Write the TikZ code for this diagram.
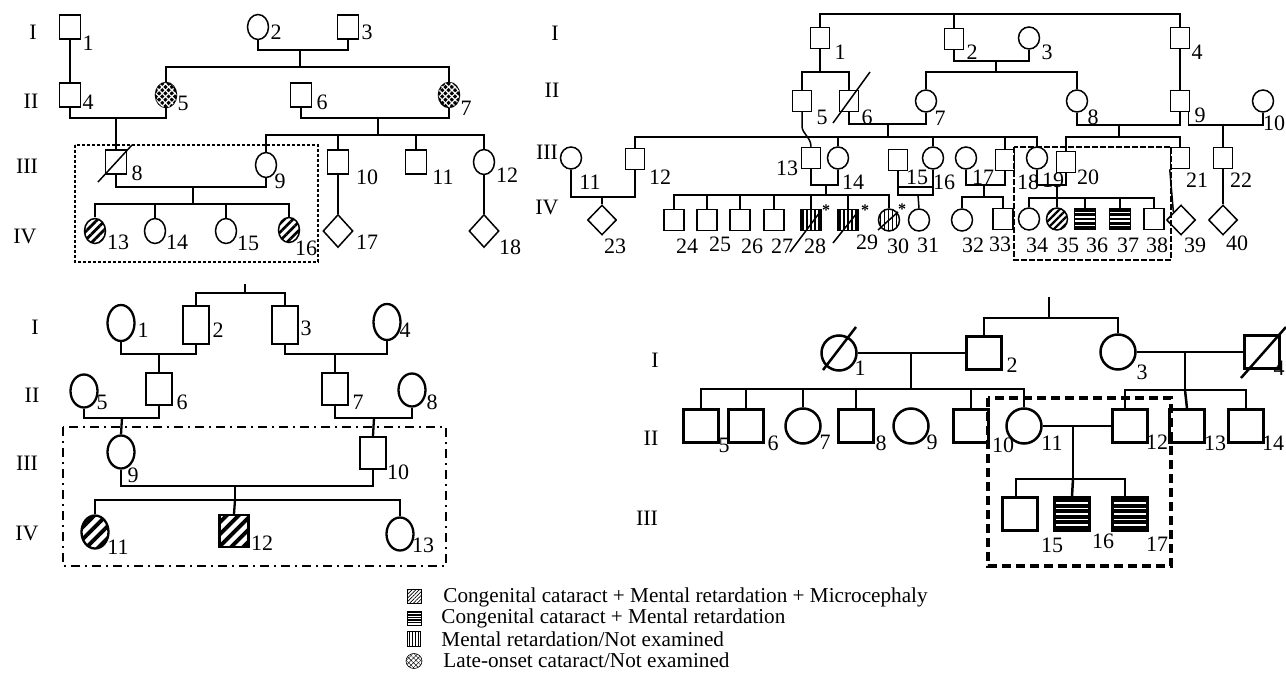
\documentclass[tikz,border=0pt]{standalone}
\usepackage{fontspec}
\setmainfont{Liberation Serif}
\usetikzlibrary{shapes.geometric,patterns,patterns.meta}
\newcommand\labfont{\fontsize{22}{24}\selectfont}
\newcommand\legfont{\fontsize{21.2}{23}\selectfont}
\tikzset{
 lb/.style={inner sep=0pt, font=\labfont},
 leg/.style={inner sep=0pt, font=\legfont, anchor=west},
 ast/.style={inner sep=0pt, font=\fontsize{16}{16}\selectfont\bfseries},
 sqA/.style={draw, rectangle, inner sep=0pt, minimum width=21pt, minimum height=24pt},
 ciA/.style={draw, ellipse, inner sep=0pt, minimum width=21pt, minimum height=25pt},
 diA/.style={draw, diamond, inner sep=0pt, minimum width=30pt, minimum height=33pt},
 sqB/.style={draw, rectangle, inner sep=0pt, minimum width=19pt, minimum height=21pt},
 ciB/.style={draw, ellipse, inner sep=0pt, minimum width=21pt, minimum height=22pt},
 diB/.style={draw, diamond, inner sep=0pt, minimum width=29pt, minimum height=30pt},
 sqC/.style={draw, rectangle, inner sep=0pt, minimum width=26pt, minimum height=32pt},
 sqCI/.style={draw, rectangle, inner sep=0pt, minimum width=26pt, minimum height=38pt},
 ciC/.style={draw, ellipse, inner sep=0pt, minimum width=27pt, minimum height=33pt},
 sqD/.style={draw, rectangle, inner sep=0pt, minimum width=35pt, minimum height=33pt},
 ciD/.style={draw, ellipse, inner sep=0pt, minimum width=35pt, minimum height=35pt},
 diagA/.style={pattern={Lines[angle=45,distance=6pt,line width=2.7pt]}},
 diagB/.style={pattern={Lines[angle=45,distance=5pt,line width=2.3pt]}},
 diagC/.style={pattern={Lines[angle=45,distance=8.5pt,line width=4pt]}},
 hstripe/.style n args={3}{path picture={
   \foreach \k in {0,...,#3}{
     \draw[line width=#2pt] ([yshift={-(#1/2+\k*#1)*1pt}]path picture bounding box.north west)
        -- ([yshift={-(#1/2+\k*#1)*1pt}]path picture bounding box.north east);}}},
 vstripe/.style n args={3}{path picture={
   \foreach \k in {0,...,#3}{
     \draw[line width=#2pt] ([xshift={(#1/2+\k*#1)*1pt}]path picture bounding box.north west)
        -- ([xshift={(#1/2+\k*#1)*1pt}]path picture bounding box.south west);}}},
 xhatch/.style={preaction={fill=black},
   pattern={Lines[angle=45,distance=4.5pt,line width=1.2pt]}, pattern color=white,
   postaction={pattern={Lines[angle=-45,distance=4.5pt,line width=1.2pt]}, pattern color=white}},
 dotbox/.style={line width=1.4pt, dash pattern=on 3pt off 2pt},
 dashboxB/.style={line width=1.4pt, dash pattern=on 6pt off 2pt},
 dashboxC/.style={line width=2.4pt, dash pattern=on 9pt off 5pt on 2pt off 5pt},
 dashboxD/.style={line width=3.6pt, dash pattern=on 9pt off 5pt},
}
\begin{document}
\begin{tikzpicture}[x=1pt,y=-1pt]
\useasboundingbox (0,0) rectangle (1286,682);
\clip (0,0) rectangle (1286,682);

%%%%%%%%%%%%%%%% Panel A %%%%%%%%%%%%%%%%
\begin{scope}[line width=1.5pt]
\node[lb] (rA1) at (33,32) {I};
\node[lb] (rA2) at (31,101) {II};
\node[lb] (rA3) at (27,166) {III};
\node[lb] (rA4) at (25,236) {IV};

\node[sqA] (A1) at (70,27) {};
\node[ciA] (A2) at (258,27) {};
\node[sqA] (A3) at (348,27) {};
\node[sqA] (A4) at (70,95) {};
\node[ciA,xhatch] (A5) at (166,95) {};
\node[sqA] (A6) at (301,95) {};
\node[ciA,xhatch] (A7) at (449,95) {};
\node[sqA] (A8) at (116,162) {};
\node[ciA] (A9) at (266,165) {};
\node[sqA] (A10) at (338,162) {};
\node[sqA] (A11) at (416,162) {};
\node[ciA] (A12) at (484,162) {};
\node[ciA,diagA] (A13) at (95,231) {};
\node[ciA] (A14) at (155,231) {};
\node[ciA] (A15) at (226,231) {};
\node[ciA,diagA] (A16) at (289,230) {};
\node[diA] (A17) at (338,231) {};
\node[diA] (A18) at (484,231) {};

\node[lb] (lA1) at (88,43) {1};
\node[lb] (lA2) at (276,32) {2};
\node[lb] (lA3) at (367,32) {3};
\node[lb] (lA4) at (88,102) {4};
\node[lb] (lA5) at (183,103) {5};
\node[lb] (lA6) at (322,102) {6};
\node[lb] (lA7) at (466,108) {7};
\node[lb] (lA8) at (137,173) {8};
\node[lb] (lA9) at (280,181) {9};
\node[lb] (lA10) at (367,177) {10};
\node[lb] (lA11) at (443,177) {11};
\node[lb] (lA12) at (507,175) {12};
\node[lb] (lA13) at (118,242) {13};
\node[lb] (lA14) at (177,242) {14};
\node[lb] (lA15) at (248,243) {15};
\node[lb] (lA16) at (306,248) {16};
\node[lb] (lA17) at (367,242) {17};
\node[lb] (lA18) at (510,247) {18};

\draw ([shift={(-18,20)}]A8.center) -- ([shift={(16,-17)}]A8.center);

\coordinate (A23) at (300,50);
\coordinate (A23s) at (300,67);
\coordinate (A45) at (116,118);
\coordinate (A67) at (378,118);
\coordinate (A67s) at (378,135);
\coordinate (A89) at (193,187);
\coordinate (A89s) at (193,204);
\draw (A1.south) -- (A4.north);
\draw (A2.south) |- (A23) -| (A3.south);
\draw (A23) -- (A23s);
\draw (A5.north) |- (A23s) -| (A7.north);
\draw (A4.south) |- (A45) -| (A5.south);
\draw (A45) -- (A8.north);
\draw (A6.south) |- (A67) -| (A7.south);
\draw (A67) -- (A67s);
\draw (A9.north) |- (A67s) -| (A12.north);
\draw (A10.north) -- (A10.north |- A67s);
\draw (A11.north) -- (A11.north |- A67s);
\draw (A8.south) |- (A89) -| (A9.south);
\draw (A89) -- (A89s);
\draw (A13.north) |- (A89s) -| (A16.north);
\draw (A14.north) -- (A14.north |- A89s);
\draw (A15.north) -- (A15.north |- A89s);
\draw (A10.south) -- (A17.north);
\draw (A12.south) -- (A18.north);
\draw[dotbox] (75,145) rectangle (318,262);
\end{scope}

%%%%%%%%%%%%%%%% Panel B %%%%%%%%%%%%%%%%
\begin{scope}[line width=1.5pt]
\node[lb] (rB1) at (555,33) {I};
\node[lb] (rB2) at (552,90) {II};
\node[lb] (rB3) at (547,152) {III};
\node[lb] (rB4) at (547,207) {IV};

\node[sqB] (B1) at (820,38) {};
\node[sqB] (B2) at (954,39) {};
\node[ciB] (B3) at (1029,38) {};
\node[sqB] (B4) at (1180,38) {};
\node[sqB] (B5) at (802,101) {};
\node[sqB] (B6) at (849,101) {};
\node[ciB] (B7) at (926,101) {};
\node[ciB] (B8) at (1077,101) {};
\node[sqB] (B9) at (1180,101) {};
\node[ciB] (B10) at (1263,101) {};
\node[ciB] (B11) at (571,158) {};
\node[sqB] (B12) at (635,159) {};
\node[sqB] (B13) at (811,158) {};
\node[ciB] (B14) at (838,158) {};
\node[sqB] (B15) at (898,160) {};
\node[ciB] (B16) at (933,158) {};
\node[ciB] (B17) at (966,158) {};
\node[sqB] (B17b) at (1005,160) {};
\node[ciB] (B18) at (1037,158) {};
\node[sqB] (B20) at (1066,162) {};
\node[sqB] (B21) at (1180,158) {};
\node[sqB] (B22) at (1223,158) {};
\node[diB] (B23) at (602,220) {};
\node[sqB,minimum width=20pt] (B24) at (674,220) {};
\node[sqB,minimum width=20pt] (B25) at (707,220) {};
\node[sqB,minimum width=20pt] (B26) at (740,220) {};
\node[sqB,minimum width=20pt] (B27) at (774,220) {};
\node[sqB,minimum width=20pt,vstripe={4}{1.7}{6}] (B28) at (811,220) {};
\node[sqB,minimum width=20pt,vstripe={4}{1.7}{6}] (B29) at (848,220) {};
\node[ciB,vstripe={4}{1.7}{6}] (B30) at (889,220) {};
\node[ciB] (B31) at (919,220) {};
\node[ciB] (B32) at (962,220) {};
\node[sqB,minimum width=20pt] (B33) at (1003,219) {};
\node[ciB] (B34) at (1029,219) {};
\node[ciB,diagB] (B35) at (1057,219) {};
\node[sqB,minimum width=21pt,hstripe={4.2}{2.9}{6}] (B36) at (1085,219) {};
\node[sqB,minimum width=21pt,hstripe={4.2}{2.9}{6}] (B37) at (1120,219) {};
\node[sqB,minimum width=20pt] (B38) at (1154,219) {};
\node[diB] (B39) at (1181,220) {};
\node[diB] (B40) at (1223,220) {};

\node[lb] (lB1) at (840,52) {1};
\node[lb] (lB2) at (972,52) {2};
\node[lb] (lB3) at (1047,52) {3};
\node[lb] (lB4) at (1197,52) {4};
\node[lb] (lB5) at (822,117) {5};
\node[lb] (lB6) at (867,117) {6};
\node[lb] (lB7) at (940,118) {7};
\node[lb] (lB8) at (1093,117) {8};
\node[lb] (lB9) at (1200,115) {9};
\node[lb] (lB10) at (1274,123) {10};
\node[lb] (lB11) at (590,182) {11};
\node[lb] (lB12) at (660,177) {12};
\node[lb] (lB13) at (787,168) {13};
\node[lb] (lB14) at (853,182) {14};
\node[lb] (lB15) at (917,177) {15};
\node[lb] (lB16) at (944,182) {16};
\node[lb] (lB17) at (983,177) {17};
\node[lb] (lB18) at (1028,182) {18};
\node[lb] (lB19) at (1053,180) {19};
\node[lb] (lB20) at (1088,177) {20};
\node[lb] (lB21) at (1197,180) {21};
\node[lb] (lB22) at (1241,180) {22};
\node[lb] (lB23) at (615,246) {23};
\node[lb] (lB24) at (687,246) {24};
\node[lb] (lB25) at (720,244) {25};
\node[lb] (lB26) at (752,246) {26};
\node[lb] (lB27) at (782,246) {27};
\node[lb] (lB28) at (815,246) {28};
\node[lb] (lB29) at (867,242) {29};
\node[lb] (lB30) at (898,246) {30};
\node[lb] (lB31) at (928,245) {31};
\node[lb] (lB32) at (973,245) {32};
\node[lb] (lB33) at (1000,244) {33};
\node[lb] (lB34) at (1037,245) {34};
\node[lb] (lB35) at (1068,245) {35};
\node[lb] (lB36) at (1097,245) {36};
\node[lb] (lB37) at (1128,245) {37};
\node[lb] (lB38) at (1157,245) {38};
\node[lb] (lB39) at (1195,245) {39};
\node[lb] (lB40) at (1237,243) {40};
\node[ast] (sB28) at (826,210) {*};
\node[ast] (sB29) at (865,210) {*};
\node[ast] (sB30) at (902,209) {*};

\draw ([shift={(-16,22)}]B6.center) -- ([shift={(21,-29)}]B6.center);
\draw ([shift={(-21,32)}]B28.center) -- ([shift={(9,-8)}]B28.center);
\draw ([shift={(-15,23)}]B29.center) -- ([shift={(9,-7)}]B29.center);
\draw ([shift={(-11,10)}]B30.center) -- ([shift={(9,-8)}]B30.center);

\coordinate (BT) at (955,14);
\coordinate (B1c) at (820,72);
\coordinate (B23m) at (996,61);
\coordinate (B23s) at (996,72);
\coordinate (B67) at (888,124);
\coordinate (B67s) at (888,137);
\coordinate (B89) at (1119,125);
\coordinate (B89s) at (1119,137);
\coordinate (B910) at (1223,125);
\coordinate (B1112) at (602,197);
\coordinate (B1314) at (826,185);
\coordinate (B1314s) at (826,195);
\coordinate (B1516) at (918,187);
\coordinate (B1516s) at (918,195);
\coordinate (B17m) at (984,185);
\coordinate (B17s) at (984,197);
\coordinate (B1820) at (1057,185);
\coordinate (B1820s) at (1057,198);
\coordinate (B5c) at (802,126);

\draw (B1.north) |- (BT) -| (B4.north);
\draw (B2.north) -- (B2.north |- BT);
\draw (B1.south) -- (B1c);
\draw (B5.north) |- (B1c) -| (B6.north);
\draw (B2.south) |- (B23m) -| (B3.south);
\draw (B23m) -- (B23s);
\draw (B7.north) |- (B23s) -| (B8.north);
\draw (B4.south) -- (B9.north);
\draw (B6.south) |- (B67) -| (B7.south);
\draw (B67) -- (B67s);
\draw (B12.north) |- (B67s) -| (B18.north);
\draw (B14.north) -- (B14.north |- B67s);
\draw (B16.north) -- (B16.north |- B67s);
\draw (B17b.north) -- (B17b.north |- B67s);
\draw (B5.south) -- (B5c) .. controls (802,134) and (811,137) .. (B13.north);
\draw (B8.south) |- (B89) -| (B9.south);
\draw (B89) -- (B89s);
\draw (B20.north) |- (B89s) -| (B21.north);
\draw ([xshift=-2pt]B9.south east) |- (B910) -| (B10.south);
\draw (B910) -- (B22.north);
\draw (B22.south) -- (B40.north);
\draw (B21.south west) -- (B39.north west);
\draw (B11.south) |- (B1112) -| (B12.south);
\draw (B1112) -- (B23.north);
\draw (B13.south) |- (B1314) -| (B14.south);
\draw (B1314) -- (B1314s);
\draw (B24.north) |- (B1314s) -| (B30.north);
\foreach \n in {25,26,27,28,29} {\draw (B\n.north) -- (B\n.north |- B1314s);}
\draw (B15.south) |- (B1516s) -| (B16.south);
\draw (B15.south |- B1516) -- (B16.south |- B1516);
\draw (B1516s) -- (B31.north);
\draw (B17.south) |- (B17m) -| (B17b.south);
\draw (B17m) -- (B17s);
\draw (B32.north) |- (B17s) -| (B33.north);
\draw (B18.south) |- (B1820) -| (B20.south);
\draw (B1820) -- (B1820s);
\draw (B34.north) |- (B1820s) -| (B38.north);
\foreach \n in {35,36,37} {\draw (B\n.north) -- (B\n.north |- B1820s);}
\draw[dashboxB] (1014,147) rectangle (1171,260);
\end{scope}

%%%%%%%%%%%%%%%% Panel C %%%%%%%%%%%%%%%%
\begin{scope}[line width=2.3pt]
\node[lb] (rC1) at (35,327) {I};
\node[lb] (rC2) at (32,395) {II};
\node[lb] (rC3) at (27,463) {III};
\node[lb] (rC4) at (27,533) {IV};

\node[ciC,minimum height=36pt] (C1) at (121,323) {};
\node[sqCI] (C2) at (196,325) {};
\node[sqCI] (C3) at (285,325) {};
\node[ciC,minimum height=36pt] (C4) at (387,322) {};
\node[ciC] (C5) at (84,391) {};
\node[sqC] (C6) at (159,389) {};
\node[sqC] (C7) at (335,389) {};
\node[ciC] (C8) at (412,390) {};
\node[ciC] (C9) at (121,452) {};
\node[sqC] (C10) at (373,453) {};
\node[ciC,diagC] (C11) at (95,532) {};
\node[sqC,minimum width=29pt,diagC] (C12) at (234,531) {};
\node[ciC] (C13) at (400,534) {};

\node[lb] (lC1) at (143,330) {1};
\node[lb] (lC2) at (218,330) {2};
\node[lb] (lC3) at (306,328) {3};
\node[lb] (lC4) at (405,330) {4};
\node[lb] (lC5) at (102,402) {5};
\node[lb] (lC6) at (182,402) {6};
\node[lb] (lC7) at (358,402) {7};
\node[lb] (lC8) at (432,402) {8};
\node[lb] (lC9) at (133,475) {9};
\node[lb] (lC10) at (398,472) {10};
\node[lb] (lC11) at (118,547) {11};
\node[lb] (lC12) at (262,543) {12};
\node[lb] (lC13) at (423,545) {13};

\coordinate (CTt) at (245,284);
\coordinate (CT) at (245,293);
\coordinate (C12m) at (159,354);
\coordinate (C34m) at (335,354);
\coordinate (C56m) at (122,418);
\coordinate (C78m) at (374,418);
\coordinate (C910) at (235,486);
\coordinate (C910s) at (235,500);
\draw (CTt) -- (CT);
\draw (C2.north) |- (CT) -| (C3.north);
\draw (C1.south) |- (C12m) -| (C2.south);
\draw (C12m) -- (C6.north);
\draw (C3.south) |- (C34m) -| (C4.south);
\draw (C34m) -- (C7.north);
\draw (C5.south) |- (C56m) -| (C6.south);
\draw (C56m) -- (C9.north);
\draw (C7.south) |- (C78m) -| (C8.south);
\draw (C78m) -- (C10.north);
\draw (C9.south) |- (C910) -| (C10.south);
\draw (C910) -- (C910s);
\draw (C11.north) |- (C910s) -| (C13.north);
\draw (C910s) -- (C12.north);
\draw[dashboxC] (63,427) rectangle (446,566);
\end{scope}

%%%%%%%%%%%%%%%% Panel D %%%%%%%%%%%%%%%%
\begin{scope}[line width=2.5pt]
\node[lb] (rD1) at (655,360) {I};
\node[lb] (rD2) at (651,438) {II};
\node[lb] (rD3) at (647,518) {III};

\node[ciD] (D1) at (839,353) {};
\node[sqD] (D2) at (984,353) {};
\node[ciD] (D3) at (1118,352) {};
\node[sqD] (D4) at (1262,352) {};
\node[sqD] (D5) at (701,426) {};
\node[sqD] (D6) at (746,426) {};
\node[ciD] (D7) at (803,426) {};
\node[sqD] (D8) at (856,426) {};
\node[ciD] (D9) at (911,426) {};
\node[sqD] (D10) at (971,426) {};
\node[ciD] (D11) at (1024,426) {};
\node[sqD] (D12) at (1130,426) {};
\node[sqD] (D13) at (1187,426) {};
\node[sqD] (D14) at (1246,426) {};
\node[sqD] (D15) at (1020,514) {};
\node[sqD,hstripe={5.5}{4.1}{6}] (D16) at (1072,514) {};
\node[sqD,hstripe={5.5}{4.1}{6}] (D17) at (1130,514) {};

\node[lb] (lD1) at (860,368) {1};
\node[lb] (lD2) at (1012,365) {2};
\node[lb] (lD3) at (1142,372) {3};
\node[lb] (lD4) at (1279,368) {4};
\node[lb] (lD5) at (724,445) {5};
\node[lb] (lD6) at (773,443) {6};
\node[lb] (lD7) at (825,442) {7};
\node[lb] (lD8) at (881,443) {8};
\node[lb] (lD9) at (932,442) {9};
\node[lb] (lD10) at (1003,445) {10};
\node[lb] (lD11) at (1052,443) {11};
\node[lb] (lD12) at (1157,442) {12};
\node[lb] (lD13) at (1215,443) {13};
\node[lb] (lD14) at (1273,443) {14};
\node[lb] (lD15) at (1052,545) {15};
\node[lb] (lD16) at (1103,541) {16};
\node[lb] (lD17) at (1157,544) {17};

\draw ([shift={(-16,17)}]D1.center) -- ([shift={(17,-26)}]D1.center);
\draw ([shift={(-21,26)}]D4.center) -- ([shift={(24,-25)}]D4.center);

\coordinate (DTt) at (1049,297);
\coordinate (DT) at (1049,318);
\coordinate (D12m) at (911,353);
\coordinate (D12s) at (911,389);
\coordinate (D34m) at (1185,352);
\coordinate (D34s) at (1185,390);
\coordinate (D1112) at (1073,426);
\coordinate (D1112s) at (1073,479);
\draw (DTt) -- (DT);
\draw (D2.north) |- (DT) -| (D3.north);
\draw (D1.east) -- (D2.west);
\draw (D12m) -- (D12s);
\draw (D5.north) |- (D12s) -| (D11.north);
\foreach \n in {6,7,8,10} {\draw (D\n.north) -- (D\n.north |- D12s);}
\draw (D3.east) -- (D4.west);
\draw (D34m) -- (D34s);
\draw ([xshift=-5pt]D12.north) |- (D34s) -| (D14.north);
\draw (D34s) -- (D13.north);
\draw (D11.east) -- (D12.west);
\draw (D1112) -- (D1112s);
\draw ([xshift=-4pt]D15.north) |- (D1112s) -| ([xshift=-5pt]D17.north);
\draw (D1112s) -- (D16.north);
\draw[dashboxD] (988,398) rectangle (1171,566);
\end{scope}

%%%%%%%%%%%%%%%% Legend %%%%%%%%%%%%%%%%
\begin{scope}[line width=0.8pt]
\node[draw, rectangle, inner sep=0pt, minimum width=14pt, minimum height=14pt,
  pattern={Lines[angle=45,distance=2.6pt,line width=0.7pt]}] (L1) at (414,596) {};
\node[draw, rectangle, inner sep=0pt, minimum width=14pt, minimum height=14pt,
  hstripe={2.6}{1.3}{5}] (L2) at (414,618) {};
\node[draw, rectangle, inner sep=0pt, minimum width=13pt, minimum height=15pt,
  vstripe={3}{0.8}{4}] (L3) at (414,639) {};
\node[draw, ellipse, inner sep=0pt, minimum width=16pt, minimum height=15pt,
  line width=0.6pt,
  pattern={Lines[angle=45,distance=3.4pt,line width=0.4pt]},
  postaction={pattern={Lines[angle=-45,distance=3.4pt,line width=0.4pt]}}] (L4) at (414,661) {};
\node[leg] (T1) at (443,597) {Congenital cataract + Mental retardation + Microcephaly};
\node[leg] (T2) at (441,618) {Congenital cataract + Mental retardation};
\node[leg] (T3) at (441,639) {Mental retardation/Not examined};
\node[leg] (T4) at (443,660) {Late-onset cataract/Not examined};
\end{scope}
\end{tikzpicture}
\end{document}
